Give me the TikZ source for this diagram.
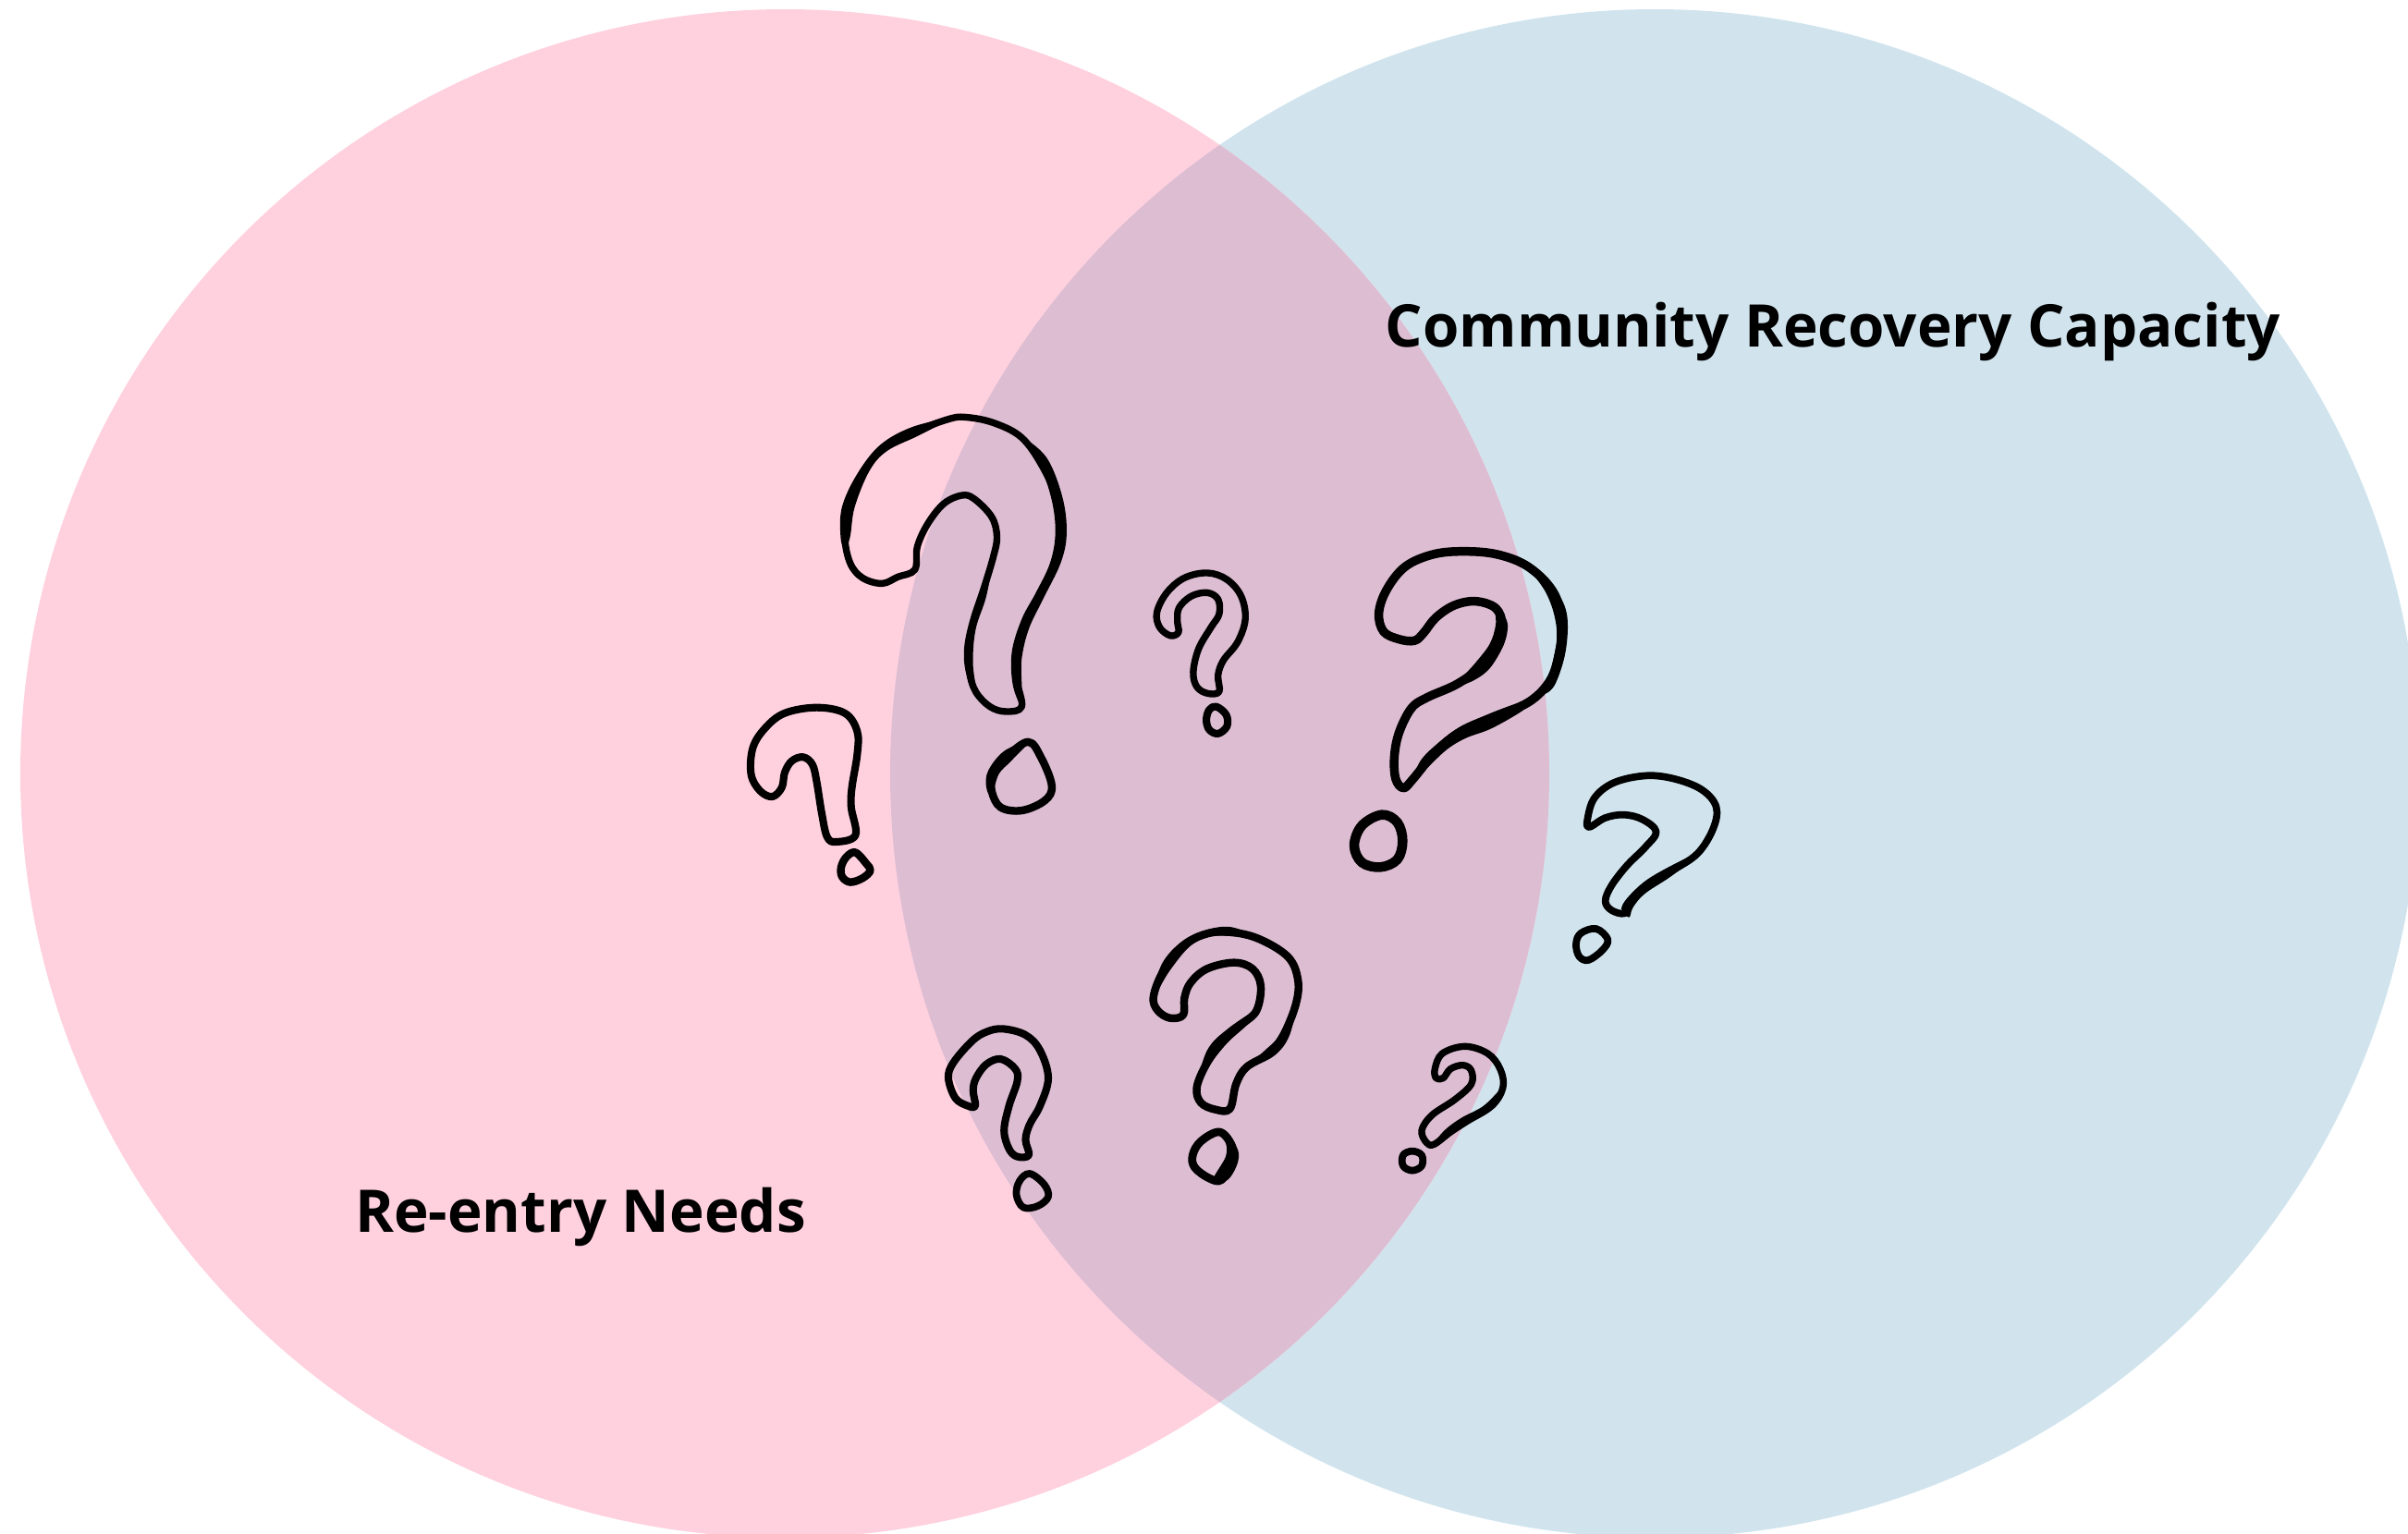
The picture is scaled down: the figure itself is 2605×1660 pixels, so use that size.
\documentclass[tikz,border=0pt]{standalone}
\usepackage{fontspec}
\setmainfont{Open Sans}
\usepackage{tikz}
\definecolor{needspink}{RGB}{255,209,223}
\definecolor{capacityblue}{RGB}{209,228,238}
\definecolor{overlapmauve}{RGB}{221,189,210}
\tikzset{
  vennlabel/.style={font=\fontsize{18.1pt}{22pt}\selectfont\bfseries, text=black, inner sep=0pt, anchor=base},
  qline/.style={draw=black, line join=round, line cap=round},
}
\newcommand{\qshape}[2]{\draw[qline, line width=#1] plot[smooth cycle, tension=0.6] coordinates {#2};}
\newcommand{\qheavy}[1]{\fill[black] plot[smooth cycle, tension=0.6] coordinates {#1};}

\begin{document}
\begin{tikzpicture}[x=0.01cm, y=-0.01cm]
  \useasboundingbox (0,0) rectangle (2605,1660);
  \clip (0,0) rectangle (2605,1660);

  % the two circles and their overlap
  \fill[capacityblue] (1790,837) circle[radius=827];
  \fill[needspink] (849,837) circle[radius=827];
  \begin{scope}
    \clip (1790,837) circle[radius=827];
    \fill[overlapmauve] (849,837) circle[radius=827];
  \end{scope}

  \node[vennlabel] (capacity) at (1983,375) {Community Recovery Capacity};
  \node[vennlabel] (needs) at (628,1333) {Re-entry Needs};

  % upper left group
  \begin{scope}[shift={(780,420)}, xscale=0.3827, yscale=0.3571]
    \qshape{2.1pt}{(548,550)(500,572)(455,592)(400,575)(365,530)(350,450)(362,360)(400,260)(460,180)(540,135)(640,95)(690,88)(770,105)(850,150)(910,240)(950,340)(962,440)(940,540)(900,630)(860,720)(838,810)(835,880)(850,965)(805,980)(760,965)(720,920)(702,860)(700,790)(715,700)(745,600)(770,510)(780,450)(765,390)(715,335)(680,325)(630,350)(585,410)(555,480)}
    \qheavy{(850,150)(920,210)(965,330)(977,440)(960,530)(910,640)(870,730)(850,820)(850,900)(850,965)(825,900)(822,800)(850,700)(890,620)(930,530)(945,440)(935,340)(900,230)}
    \qheavy{(640,95)(540,118)(450,172)(385,260)(342,360)(338,450)(350,490)(365,450)(378,360)(420,250)(470,190)(560,143)}
    \qheavy{(770,510)(745,590)(710,680)(688,780)(692,860)(720,920)(712,830)(720,730)(750,630)}
    \qshape{2.4pt}{(868,1072)(905,1120)(935,1205)(915,1250)(850,1280)(790,1270)(765,1220)(770,1170)(805,1120)}
    \qheavy{(868,1072)(800,1100)(755,1160)(750,1210)(765,1235)(785,1170)(820,1130)}
    \qshape{2.3pt}{(270,968)(350,985)(385,1040)(385,1110)(370,1210)(368,1270)(380,1355)(325,1375)(300,1360)(285,1290)(270,1190)(258,1140)(232,1118)(200,1130)(180,1165)(172,1210)(145,1238)(110,1220)(85,1170)(90,1090)(125,1030)(180,985)}
    \qshape{2.4pt}{(380,1407)(410,1440)(422,1462)(400,1485)(365,1497)(342,1480)(340,1450)(355,1420)}
    \qshape{2.1pt}{(1375,560)(1430,580)(1470,630)(1482,700)(1460,770)(1420,825)(1405,870)(1408,920)(1375,925)(1345,905)(1335,860)(1350,790)(1385,725)(1408,685)(1405,640)(1375,620)(1330,630)(1295,665)(1290,705)(1293,740)(1270,750)(1240,725)(1232,680)(1260,620)(1310,575)}
    \qshape{2.3pt}{(1400,965)(1428,990)(1430,1025)(1405,1047)(1380,1035)(1372,1005)(1380,975)}
  \end{scope}

  % right group
  \begin{scope}[shift={(1380,560)}, scale=1/3]
    \qshape{2.7pt}{(610,110)(720,120)(820,160)(900,240)(930,340)(920,440)(890,530)(820,600)(700,650)(600,695)(520,760)(445,850)(415,878)(390,850)(385,780)(400,700)(440,620)(490,585)(590,540)(670,480)(715,410)(735,350)(715,295)(650,272)(580,285)(520,325)(480,375)(450,400)(400,395)(350,370)(335,310)(360,235)(420,160)(510,120)}
    \qheavy{(825,598)(800,628)(700,685)(620,715)(560,750)(500,805)(445,860)(470,790)(530,730)(600,680)(700,635)(780,605)}
    \qheavy{(820,160)(890,215)(935,280)(948,350)(938,450)(905,545)(870,570)(892,500)(912,400)(905,320)(875,240)}
    \qheavy{(715,295)(748,330)(752,370)(735,425)(690,495)(630,535)(590,540)(650,470)(695,410)(714,350)}
    \qshape{3pt}{(345,965)(395,990)(412,1050)(395,1110)(340,1135)(280,1120)(255,1065)(280,1000)}
    \qshape{2.2pt}{(1205,838)(1300,850)(1385,885)(1430,940)(1420,1010)(1370,1090)(1290,1145)(1200,1200)(1155,1250)(1133,1285)(1090,1275)(1070,1245)(1090,1195)(1140,1130)(1200,1070)(1235,1020)(1190,980)(1130,965)(1070,975)(1018,1005)(1012,980)(1035,910)(1100,860)}
    \qheavy{(1370,1090)(1290,1160)(1200,1220)(1160,1265)(1147,1298)(1122,1268)(1160,1215)(1230,1160)}
    \qshape{2.2pt}{(1040,1335)(1078,1370)(1060,1405)(1015,1437)(985,1425)(975,1385)(990,1350)}
  \end{scope}

  % lower group
  \begin{scope}[shift={(980,980)}, xscale=0.4464, yscale=1/3]
    \qshape{2.3pt}{(235,400)(290,420)(325,470)(345,560)(325,650)(300,710)(290,760)(298,810)(270,815)(250,790)(238,730)(250,650)(270,570)(265,530)(230,498)(195,515)(170,560)(163,600)(168,650)(150,650)(120,625)(103,560)(115,510)(160,440)(195,410)}
    \qshape{2.2pt}{(300,870)(335,905)(345,945)(320,975)(285,980)(268,940)(275,895)}
    \qshape{2.4pt}{(775,85)(850,105)(925,165)(950,240)(945,320)(915,420)(880,480)(825,525)(800,580)(785,660)(750,662)(715,640)(705,590)(730,510)(770,440)(815,385)(850,340)(860,260)(840,205)(795,185)(730,205)(690,250)(675,300)(672,355)(640,365)(610,340)(600,295)(625,210)(675,130)(720,95)}
    \qheavy{(600,295)(620,190)(670,115)(730,78)(790,70)(850,105)(800,100)(740,100)(690,130)(640,210)}
    \qheavy{(947,300)(930,420)(890,490)(825,525)(870,470)(905,420)}
    \qheavy{(850,340)(780,400)(730,470)(705,590)(745,500)(795,420)}
    \qshape{2.5pt}{(760,735)(790,780)(790,830)(765,890)(735,885)(700,850)(695,810)(715,765)}
    \qheavy{(760,735)(800,780)(805,830)(780,890)(745,890)(775,815)(775,770)}
    \qshape{2.1pt}{(1355,457)(1410,480)(1440,530)(1447,590)(1420,650)(1360,700)(1320,735)(1280,775)(1262,770)(1250,730)(1275,680)(1330,630)(1370,580)(1370,535)(1350,518)(1320,530)(1302,560)(1285,560)(1282,530)(1300,480)}
    \qheavy{(1447,590)(1420,660)(1360,710)(1320,745)(1280,775)(1305,730)(1345,690)(1400,650)}
    \qshape{2.2pt}{(1227,797)(1250,810)(1250,845)(1227,860)(1205,845)(1205,810)}
  \end{scope}
\end{tikzpicture}
\end{document}
